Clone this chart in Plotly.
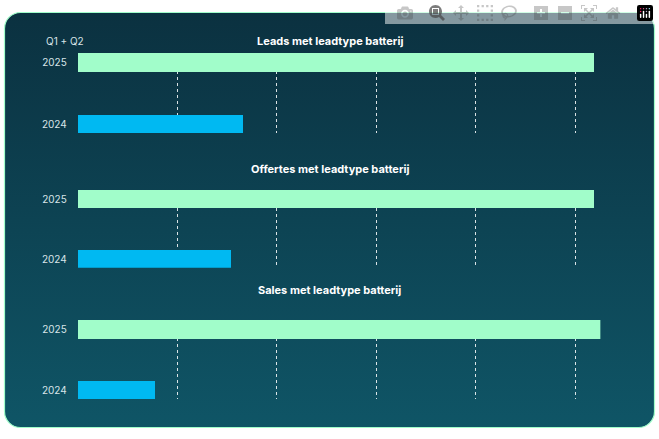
import base64
import plotly.graph_objects as go
from plotly.subplots import make_subplots

titles = ["Leads met leadtype batterij", "Offertes met leadtype batterij", "Sales met leadtype batterij"]
years = ["2024", "2025"]
values_2024 = [1.66, 1.54, 0.77]
values_2025 = [5.18, 5.18, 5.25]

W, H = 659, 439
domains = [[0.697, 0.879], [0.390, 0.567], [0.091, 0.271]]

fig = make_subplots(rows=3, cols=1)
for i in range(3):
    r = i + 1
    fig.add_trace(go.Bar(y=[0, 1], x=[values_2024[i], values_2025[i]], orientation="h",
                         width=0.30, marker=dict(color=["#00b9f2", "#a1fdca"], line_width=0),
                         showlegend=False, hoverinfo="skip"), row=r, col=1)
    fig.update_yaxes(domain=domains[i], range=[-0.146, 1.155], tickvals=[0, 1], ticktext=years,
                     showgrid=False, zeroline=False, ticks="", ticklabelstandoff=10, row=r, col=1)
    fig.update_xaxes(domain=[0.118, 0.911], range=[0, 5.25], dtick=1, showticklabels=False,
                     showgrid=True, gridcolor="rgba(255,255,255,0.85)", griddash="dot", gridwidth=1,
                     zeroline=False, row=r, col=1)
    fig.add_annotation(text="<b>" + titles[i] + "</b>", xref="paper", yref="paper",
                       x=0.5, y=domains[i][1] + 0.047, showarrow=False,
                       font=dict(size=11, color="white"))

fig.add_annotation(text="Q1 + Q2", xref="paper", yref="paper", x=44 / W, y=1 - 33 / H,
                   xanchor="left", showarrow=False, font=dict(size=10, color="#d8e4e8"))

svg = f'''<svg xmlns="http://www.w3.org/2000/svg" width="{W}" height="{H}">
<defs><linearGradient id="g" x1="0" y1="0" x2="0" y2="1">
<stop offset="0" stop-color="#0b3140"/><stop offset="1" stop-color="#0f5566"/></linearGradient></defs>
<rect x="4.5" y="12.5" width="650" height="415" rx="16" fill="url(#g)" stroke="#a1fdca" stroke-width="1.2"/>
</svg>'''
uri = "data:image/svg+xml;base64," + base64.b64encode(svg.encode()).decode()
fig.add_layout_image(source=uri, xref="paper", yref="paper", x=0, y=1, sizex=1, sizey=1,
                     xanchor="left", yanchor="top", sizing="stretch", layer="below")

fig.update_layout(width=W, height=H, margin=dict(l=0, r=0, t=0, b=0),
                  paper_bgcolor="white", plot_bgcolor="rgba(0,0,0,0)", bargap=0,
                  font=dict(family="Inter", size=10, color="#d8e4e8"))
fig.write_html("out.html",
               post_script="document.body.style.margin='0';document.body.style.overflow='hidden';")
